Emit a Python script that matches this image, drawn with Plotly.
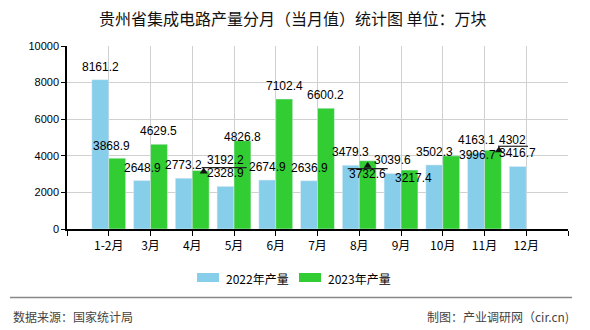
import plotly.graph_objects as go

# ---------------- data ----------------
months = ["1-2月", "3月", "4月", "5月", "6月", "7月", "8月", "9月", "10月", "11月", "12月"]
prod_2022 = [8161.2, 2648.9, 2773.2, 2328.9, 2674.9, 2636.9, 3479.3, 3039.6, 3502.3, 4163.1, 3416.7]
prod_2023 = [3868.9, 4629.5, 3192.2, 4826.8, 7102.4, 6600.2, 3732.6, 3217.4, 3996.7, 4302, None]
series_names = ["2022年产量", "2023年产量"]
y_ticks = [0, 2000, 4000, 6000, 8000, 10000]

title = "贵州省集成电路产量分月（当月值）统计图 单位：万块"
source_txt = "数据来源：国家统计局"
maker_txt = "制图：产业调研网（cir.cn)"

# ---------------- styles ----------------
C22 = "#87CEEB"
C23 = "#32CD32"
GRID = "#d0d0d0"
W, H = 590, 330
L, R, T, B = 67, 568, 46, 229
BARGAP = 0.19
LABEL_FONT = dict(family="Liberation Sans, Arial", size=12, color="#000")

# label pixel offsets for 2023 labels (dx, dy from bar top centre); default (0, 13)
label_off_23 = {0: (-6, 12.5), 2: (25, 11), 3: (0, 4), 6: (0, -13), 7: (4, -8), 8: (26, 1), 9: (20, 10)}


def px(xp):
    return (xp - L) / (R - L)


def py(yp):
    return (B - yp) / (B - T)


def fmt(v):
    return f"{int(v)}" if v == int(v) else f"{v:.1f}"


xi = list(range(len(months)))
bw = (1 - BARGAP) / 2

fig = go.Figure()
fig.add_trace(go.Bar(x=xi, y=prod_2022, name=series_names[0], marker_color=C22, showlegend=False))
fig.add_trace(go.Bar(x=xi, y=prod_2023, name=series_names[1], marker_color=C23, showlegend=False))

ann = []
shapes = []
for i, v in enumerate(prod_2022):
    ann.append(dict(x=i - bw / 2, y=v, xref="x", yref="y", text=fmt(v),
                    showarrow=False, yshift=13, xanchor="center", yanchor="middle", font=LABEL_FONT))
for i, v in enumerate(prod_2023):
    if v is None:
        continue
    dx, dy = label_off_23.get(i, (0, 13))
    ann.append(dict(x=i + bw / 2, y=v, xref="x", yref="y", text=fmt(v), showarrow=False,
                    xshift=dx, yshift=dy, xanchor="center", yanchor="middle", font=LABEL_FONT))

# leader lines + arrow heads (ECharts style label lines): (x start, x end, line y, arrow x, arrow tip y)
leaders = {2: (1, 46, 3, 3, 3), 6: (-20, 20, -8, 0, -1), 9: (5, 35, 4, 6, 4)}
for i, (a, b, yy, ax, tip) in leaders.items():
    v = prod_2023[i]
    shapes.append(dict(type="line", xref="x", yref="y", xsizemode="pixel", ysizemode="pixel",
                       xanchor=i + bw / 2, yanchor=v, x0=a, x1=b, y0=yy, y1=yy,
                       line=dict(color="#222", width=1.2)))
    shapes.append(dict(type="path", xref="x", yref="y", xsizemode="pixel", ysizemode="pixel",
                       xanchor=i + bw / 2, yanchor=v,
                       path=f"M {ax-4},{tip-6} L {ax},{tip} L {ax+4},{tip-6} Z",
                       fillcolor="#111", line=dict(width=0)))

# title
ann.append(dict(x=px(293), y=py(18), xref="paper", yref="paper", text=title, showarrow=False,
                xanchor="center", yanchor="middle",
                font=dict(family="Noto Sans CJK SC", size=16, color="#111")))
# custom legend
for (x0, x1, tx, col, name) in [(197, 219, 224, C22, series_names[0]), (299, 321, 326, C23, series_names[1])]:
    shapes.append(dict(type="rect", xref="paper", yref="paper", x0=px(x0), x1=px(x1), y0=py(282), y1=py(273),
                       fillcolor=col, line=dict(width=0)))
    ann.append(dict(x=px(tx), y=py(278), xref="paper", yref="paper", text=name, showarrow=False,
                    xanchor="left", yanchor="middle",
                    font=dict(family="Noto Sans CJK SC", size=12, color="#000")))
# footer
shapes.append(dict(type="line", xref="paper", yref="paper", x0=px(10), x1=px(572), y0=py(297.5), y1=py(297.5),
                   line=dict(color="#888", width=1.5)))
ann.append(dict(x=px(11), y=py(316), xref="paper", yref="paper", text=source_txt, showarrow=False,
                xanchor="left", yanchor="middle", font=dict(family="Noto Sans CJK SC", size=12, color="#444")))
ann.append(dict(x=px(571), y=py(316), xref="paper", yref="paper", text=maker_txt, showarrow=False,
                xanchor="right", yanchor="middle", font=dict(family="Noto Sans CJK SC", size=12, color="#444")))

fig.update_layout(
    width=W, height=H,
    margin=dict(l=L, r=W - R, t=T, b=H - B, pad=0),
    paper_bgcolor="white", plot_bgcolor="white",
    barmode="group", bargap=BARGAP, bargroupgap=0,
    showlegend=False,
    annotations=ann, shapes=shapes,
    xaxis=dict(range=[-1, len(months)], tickmode="array",
               tickvals=list(range(-1, len(months) + 1)),
               ticktext=[""] + months + [""],
               showgrid=True, gridcolor=GRID, gridwidth=1, zeroline=False,
               showline=True, linecolor="#000", linewidth=1.5,
               ticks="outside", ticklen=5, tickcolor="#000",
               tickfont=dict(family="Noto Sans CJK SC", size=12, color="#000")),
    yaxis=dict(range=[0, 10000], tickmode="array", tickvals=y_ticks, ticktext=[str(t) for t in y_ticks],
               showgrid=True, gridcolor=GRID, gridwidth=1,
               zeroline=False, showline=True, linecolor="#000", linewidth=1.5,
               ticks="outside", ticklen=4, tickcolor="#000",
               tickfont=dict(family="Liberation Sans, Arial", size=11, color="#000")),
)

fig.write_html("out.html")
